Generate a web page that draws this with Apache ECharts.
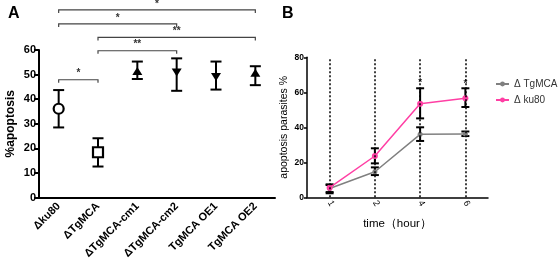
<!DOCTYPE html>
<html>
<head>
<meta charset="utf-8">
<script src="https://cdn.jsdelivr.net/npm/echarts@6/dist/echarts.min.js"></script>
<style>
html,body{margin:0;padding:0;background:#fff;}
#chart{width:558px;height:267px;}
</style>
</head>
<body>
<div id="chart"></div>
<script>
// panel A
let groupsA = ['Δku80', 'ΔTgMCA', 'ΔTgMCA-cm1', 'ΔTgMCA-cm2', 'TgMCA OE1', 'TgMCA OE2'];
let meanA = [36.1, 18.4, 51.5, 50.8, 49.0, 50.7];
let lowA = [28.5, 12.6, 48.2, 43.4, 43.9, 45.7];
let highA = [43.7, 24.1, 55.3, 56.6, 55.3, 53.4];
let symbolA = ['circle', 'rect', 'triangle', 'path://M0,0 L10,0 L5,9 Z', 'path://M0,0 L10,0 L5,9 Z', 'triangle'];
// brackets: from index, to index, level, stars
let bracketFrom = [0, 0, 1, 1, 0];
let bracketTo = [5, 3, 5, 3, 1];
let bracketLevel = [76.3, 70.6, 65.1, 59.7, 47.9];
let bracketStars = ['*', '*', '**', '**', '*'];

// panel B
let hours = ['1', '2', '4', '6'];
let tgmcaMean = [5.0, 14.6, 36.0, 36.2];
let tgmcaLow = [3.0, 12.7, 32.2, 35.0];
let tgmcaHigh = [7.0, 17.1, 40.0, 37.6];
let ku80Mean = [5.5, 23.6, 53.5, 56.6];
let ku80Low = [2.3, 19.4, 45.1, 51.6];
let ku80High = [7.4, 28.0, 62.3, 62.3];
let starHours = ['4', '6'];
let starLevel = [66.2, 65.8];

let font = 'Liberation Sans, Arial, sans-serif';

let chart = echarts.init(document.getElementById('chart'));

function errorBar(cap, width) {
    return function (params, api) {
        let x = api.value(0);
        let lo = api.coord([x, api.value(1)]);
        let hi = api.coord([x, api.value(2)]);
        let st = {stroke: '#000', lineWidth: width};
        return {
            type: 'group',
            children: [
                {type: 'line', shape: {x1: lo[0], y1: lo[1], x2: hi[0], y2: hi[1]}, style: st},
                {type: 'line', shape: {x1: lo[0] - cap, y1: lo[1], x2: lo[0] + cap, y2: lo[1]}, style: st},
                {type: 'line', shape: {x1: hi[0] - cap, y1: hi[1], x2: hi[0] + cap, y2: hi[1]}, style: st}
            ]
        };
    };
}

let option = {
    animation: false,
    textStyle: {fontFamily: font},
    title: [
        {text: 'A', left: 3, top: 1, textStyle: {fontSize: 16, fontWeight: 'bold', color: '#000', fontFamily: font}},
        {text: 'B', left: 277, top: 1, textStyle: {fontSize: 16, fontWeight: 'bold', color: '#000', fontFamily: font}}
    ],
    legend: {
        orient: 'vertical',
        left: 490,
        top: 74,
        itemGap: 6,
        itemWidth: 13,
        itemHeight: 6,
        textStyle: {fontSize: 10, color: '#333', fontFamily: font},
        data: ['Δ TgMCA', 'Δ ku80']
    },
    grid: [
        {left: 39, top: 50, width: 236, height: 147.5},
        {left: 307, top: 57.3, width: 181, height: 140}
    ],
    xAxis: [
        {
            gridIndex: 0, type: 'category', data: groupsA,
            axisLine: {lineStyle: {color: '#000', width: 2}},
            axisTick: {alignWithLabel: true, length: 5, lineStyle: {width: 2, color: '#000'}},
            axisLabel: {rotate: 45, fontSize: 11, fontWeight: 'bold', color: '#000', margin: 7, interval: 0}
        },
        {
            gridIndex: 1, type: 'category', data: hours,
            name: 'time（hour）', nameLocation: 'middle', nameGap: 21,
            nameTextStyle: {fontSize: 11.5, color: '#000'},
            axisLine: {lineStyle: {color: '#000', width: 1.5}},
            axisTick: {alignWithLabel: true, length: 3, lineStyle: {width: 1.5, color: '#000'}},
            axisLabel: {rotate: -60, fontSize: 9, color: '#000', margin: 4}
        }
    ],
    yAxis: [
        {
            gridIndex: 0, type: 'value', min: 0, max: 60, interval: 10,
            name: '%apoptosis', nameLocation: 'middle', nameGap: 22,
            nameTextStyle: {fontSize: 12, fontWeight: 'bold', color: '#000'},
            axisLine: {show: true, lineStyle: {color: '#000', width: 2}},
            axisTick: {show: true, length: 5, lineStyle: {width: 2, color: '#000'}},
            axisLabel: {fontSize: 11, fontWeight: 'bold', color: '#000', margin: 3},
            splitLine: {show: false}
        },
        {
            gridIndex: 1, type: 'value', min: 0, max: 80, interval: 20,
            name: 'apoptosis parasites %', nameLocation: 'middle', nameGap: 17,
            nameTextStyle: {fontSize: 10.5, color: '#000'},
            axisLine: {show: true, lineStyle: {color: '#000', width: 1.5}},
            axisTick: {show: true, length: 3, lineStyle: {width: 1.5, color: '#000'}},
            axisLabel: {fontSize: 8.5, fontWeight: 'bold', color: '#000', margin: 3},
            splitLine: {show: false}
        }
    ],
    series: [
        {
            type: 'custom', xAxisIndex: 0, yAxisIndex: 0, z: 2,
            renderItem: errorBar(5.5, 2),
            data: groupsA.map((g, i) => [i, lowA[i], highA[i]])
        },
        {
            type: 'scatter', xAxisIndex: 0, yAxisIndex: 0, z: 5,
            data: meanA.map((v, i) => ({
                value: [i, v],
                symbol: symbolA[i],
                symbolSize: i < 2 ? 10 : [10, 8],
                itemStyle: i < 2
                    ? {color: '#fff', borderColor: '#000', borderWidth: 2.2, opacity: 1}
                    : {color: '#000', borderWidth: 0, opacity: 1}
            }))
        },
        {
            type: 'custom', xAxisIndex: 0, yAxisIndex: 0, clip: false, z: 3,
            renderItem: function (params, api) {
                let a = api.coord([api.value(0), api.value(2)]);
                let b = api.coord([api.value(1), api.value(2)]);
                let i = params.dataIndex;
                return {
                    type: 'group',
                    children: [
                        {
                            type: 'polyline',
                            shape: {points: [[a[0], a[1] + 3], [a[0], a[1]], [b[0], b[1]], [b[0], b[1] + 3]]},
                            style: {stroke: '#444', lineWidth: 1.2, fill: null}
                        },
                        {
                            type: 'text',
                            style: {
                                x: (a[0] + b[0]) / 2, y: a[1] - 1,
                                text: bracketStars[i], fill: '#333',
                                font: 'bold 10px ' + font,
                                textAlign: 'center', textVerticalAlign: 'bottom'
                            }
                        }
                    ]
                };
            },
            data: bracketLevel.map((v, i) => [bracketFrom[i], bracketTo[i], v])
        },
        {
            name: 'Δ TgMCA', type: 'line', xAxisIndex: 1, yAxisIndex: 1, z: 4,
            data: tgmcaMean,
            symbol: 'circle', symbolSize: 5,
            lineStyle: {color: '#808080', width: 1.5},
            itemStyle: {color: '#808080'},
            markLine: {
                silent: true, symbol: ['none', 'none'], label: {show: false},
                lineStyle: {color: '#000', type: [2, 2], width: 1.5},
                data: hours.map(h => ({xAxis: h}))
            }
        },
        {
            name: 'Δ ku80', type: 'line', xAxisIndex: 1, yAxisIndex: 1, z: 4,
            data: ku80Mean,
            symbol: 'circle', symbolSize: 6,
            lineStyle: {color: '#ff3fa4', width: 1.5},
            itemStyle: {color: '#ff3fa4'}
        },
        {
            type: 'custom', xAxisIndex: 1, yAxisIndex: 1, z: 3,
            renderItem: errorBar(4, 2),
            data: hours.map((h, i) => [i, tgmcaLow[i], tgmcaHigh[i]])
        },
        {
            type: 'custom', xAxisIndex: 1, yAxisIndex: 1, z: 3,
            renderItem: errorBar(4, 2),
            data: hours.map((h, i) => [i, ku80Low[i], ku80High[i]])
        },
        {
            type: 'scatter', xAxisIndex: 1, yAxisIndex: 1, z: 5,
            symbol: 'circle', symbolSize: 1,
            itemStyle: {color: 'rgba(0,0,0,0)'},
            label: {show: true, position: 'inside', formatter: '*', fontSize: 10, fontWeight: 'bold', color: '#000', offset: [0, 2]},
            data: starHours.map((h, i) => [h, starLevel[i]])
        }
    ]
};

chart.setOption(option);
</script>
</body>
</html>
